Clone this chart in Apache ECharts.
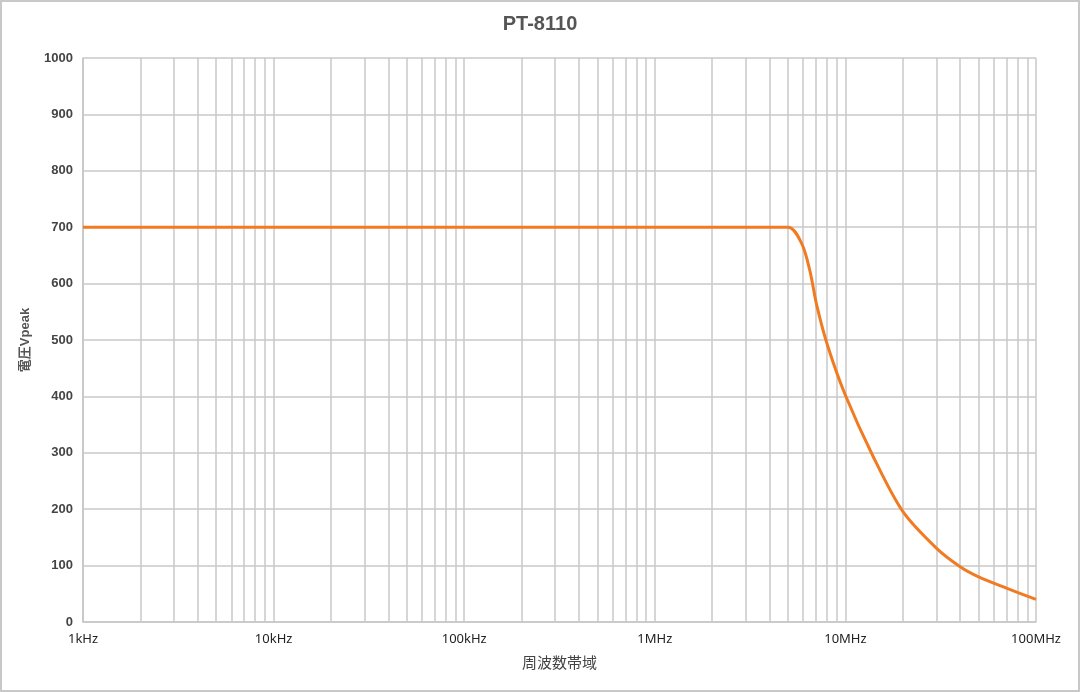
<!DOCTYPE html>
<html>
<head>
<meta charset="utf-8">
<script src="https://cdn.jsdelivr.net/npm/echarts@6/dist/echarts.min.js"></script>
<style>
html,body{margin:0;padding:0;background:#fff;}
#c{width:1080px;height:692px;box-sizing:border-box;border:2px solid #c8c8c8;}
</style>
</head>
<body>
<div id="c"></div>
<script>
// Frequency (Hz) and voltage (Vpeak)
const freqHz = [1e3, 5e6, 5.9e6, 6.5e6, 7.07e6, 8.1e6, 1e7, 1.4e7, 2e7, 3e7, 4e7, 5e7, 7e7, 1e8];
const voltage = [700, 700, 671, 624, 562, 488, 402, 293, 196, 131, 98, 80, 60, 40];
const decadeLabels = {1e3:'1kHz', 1e4:'10kHz', 1e5:'100kHz', 1e6:'1MHz', 1e7:'10MHz', 1e8:'100MHz'};
const decades = [1e3, 1e4, 1e5, 1e6, 1e7];
const minorMultipliers = [2, 3, 4, 5, 6, 7, 8, 9];

const minorGrid = [];
decades.forEach(d => minorMultipliers.forEach(m => minorGrid.push(d * m)));

const points = freqHz.map((f, i) => [f, voltage[i]]);

const chart = echarts.init(document.getElementById('c'), null, {renderer: 'canvas'});
chart.setOption({
  animation: false,
  backgroundColor: '#fff',
  title: {
    text: 'PT-8110', left: 'center', top: 7,
    textStyle: {fontSize: 20, fontWeight: 'bold', color: '#555', fontFamily: 'Liberation Sans, Arial, sans-serif'}
  },
  grid: {left: 81, right: 42, top: 56, bottom: 68},
  xAxis: {
    type: 'log', logBase: 10, min: 1e3, max: 1e8,
    name: '周波数帯域', nameLocation: 'middle', nameGap: 33,
    nameTextStyle: {fontSize: 15, color: '#444', fontFamily: 'Noto Sans CJK JP, sans-serif'},
    axisLine: {show: true, lineStyle: {color: '#c8c8c8', width: 1.5}},
    axisTick: {show: false},
    axisLabel: {
      color: '#222', fontSize: 13, margin: 11,
      fontFamily: 'Noto Sans, Open Sans, sans-serif',
      formatter: v => decadeLabels[Math.round(v)] || ''
    },
    splitLine: {show: true, lineStyle: {color: '#c8c8c8', width: 1.5}}
  },
  yAxis: {
    type: 'value', min: 0, max: 1000, interval: 100,
    name: '電圧Vpeak', nameLocation: 'middle', nameGap: 51,
    nameTextStyle: {fontSize: 13, fontWeight: 'bold', color: '#555', fontFamily: 'Liberation Sans, Noto Sans CJK JP, sans-serif'},
    axisLine: {show: true, lineStyle: {color: '#c8c8c8', width: 1.5}},
    axisTick: {show: false},
    axisLabel: {
      color: '#444', fontSize: 13, fontWeight: 'bold', margin: 10,
      fontFamily: 'Liberation Sans, Arial, sans-serif',
      formatter: v => String(v)
    },
    splitLine: {show: true, lineStyle: {color: '#c8c8c8', width: 1.5}}
  },
  series: [
    {
      type: 'line', data: [], z: 1, silent: true,
      markLine: {
        silent: true, symbol: ['none', 'none'], animation: false,
        label: {show: false},
        lineStyle: {color: '#c8c8c8', width: 1.5, type: 'solid'},
        data: minorGrid.map(v => ({xAxis: v}))
      }
    },
    {
      type: 'line', data: points, z: 5,
      smooth: 0.3, showSymbol: false, symbol: 'none',
      lineStyle: {color: '#F07B22', width: 3}
    }
  ]
});
</script>
</body>
</html>
